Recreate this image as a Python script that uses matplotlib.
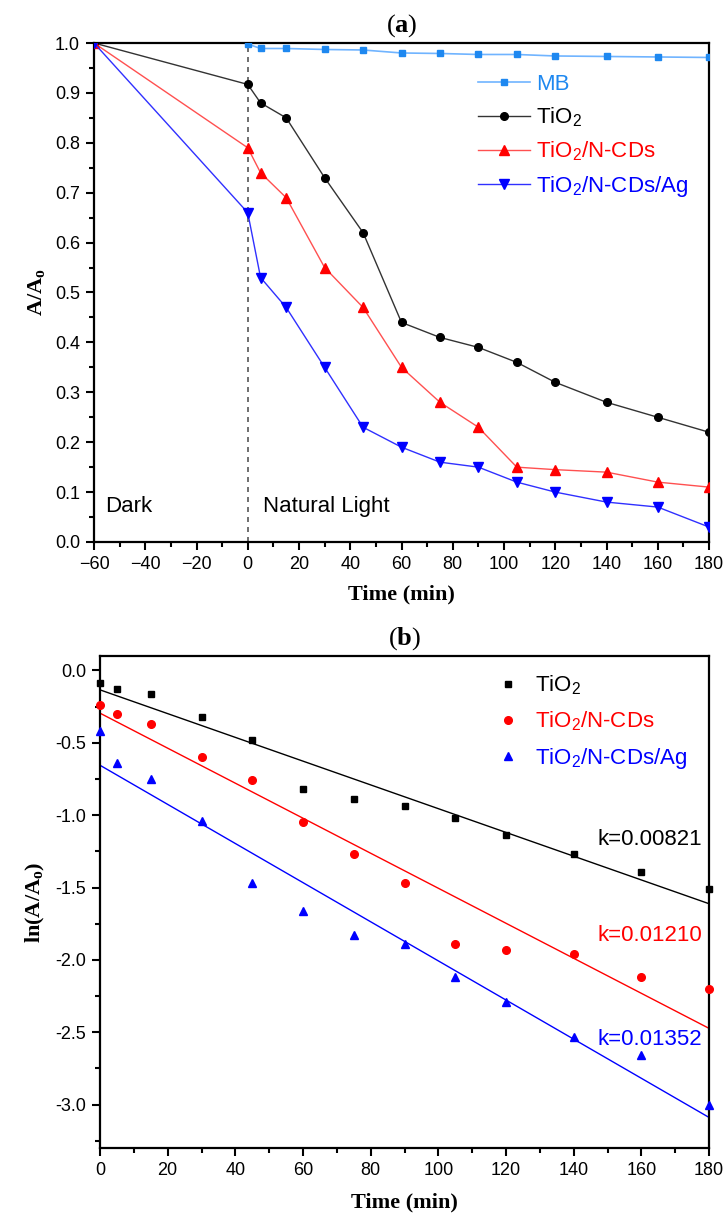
import matplotlib
matplotlib.use("Agg")
import matplotlib.pyplot as plt
from matplotlib.ticker import MultipleLocator
import numpy as np

plt.rcParams['font.family'] = ['Liberation Sans', 'DejaVu Sans']
plt.rcParams['mathtext.fontset'] = 'custom'
plt.rcParams['mathtext.rm'] = 'Liberation Sans'
plt.rcParams['mathtext.it'] = 'Liberation Sans:italic'
plt.rcParams['mathtext.bf'] = 'Liberation Serif:bold'
plt.rcParams['mathtext.sf'] = 'Liberation Serif'

# ---------------- Panel (a) data ----------------
time_a = [-60, 0, 5, 15, 30, 45, 60, 75, 90, 105, 120, 140, 160, 180]
time_mb = [0, 5, 15, 30, 45, 60, 75, 90, 105, 120, 140, 160, 180]
mb_a = [0.998, 0.989, 0.989, 0.987, 0.986, 0.980, 0.979, 0.977, 0.977, 0.974, 0.973, 0.972, 0.971]
tio2_a = [1.0, 0.917, 0.88, 0.85, 0.73, 0.62, 0.44, 0.41, 0.39, 0.36, 0.32, 0.28, 0.25, 0.22]
ncds_a = [1.0, 0.79, 0.74, 0.69, 0.55, 0.47, 0.35, 0.28, 0.23, 0.15, 0.145, 0.14, 0.12, 0.11]
ag_a = [1.0, 0.66, 0.53, 0.47, 0.35, 0.23, 0.19, 0.16, 0.15, 0.12, 0.10, 0.08, 0.07, 0.03]

# ---------------- Panel (b) data ----------------
time_b = [0, 5, 15, 30, 45, 60, 75, 90, 105, 120, 140, 160, 180]
tio2_b = [-0.09, -0.13, -0.16, -0.32, -0.48, -0.82, -0.89, -0.94, -1.02, -1.14, -1.27, -1.39, -1.51]
ncds_b = [-0.24, -0.30, -0.37, -0.60, -0.76, -1.05, -1.27, -1.47, -1.89, -1.93, -1.96, -2.12, -2.20]
ag_b = [-0.42, -0.64, -0.75, -1.04, -1.47, -1.66, -1.83, -1.89, -2.12, -2.29, -2.53, -2.66, -3.00]
k_values = [0.00821, 0.01210, 0.01352]
fit_intercepts = [-0.134, -0.295, -0.655]
k_label_y = [-1.17, -1.83, -2.55]

labels = ['TiO$_2$', 'TiO$_2$/N-CDs', 'TiO$_2$/N-CDs/Ag']
c_black, c_red, c_blue, c_mb = '#000000', '#FF0000', '#0000FF', '#1E88F0'

fig = plt.figure(figsize=(7.26, 12.2), dpi=100)
ax1 = fig.add_axes([94/726, 1-542/1220, (709-94)/726, (542-43)/1220])
ax2 = fig.add_axes([100/726, 1-1148/1220, (709-100)/726, (1148-656)/1220])

def style(ax):
    for s in ax.spines.values():
        s.set_linewidth(1.6)
    ax.tick_params(which='major', direction='out', length=6, width=1.5,
                   labelsize=13, top=False, right=False, pad=4)
    ax.tick_params(which='minor', direction='out', length=3.5, width=1.5,
                   top=False, right=False)

# ---- panel a ----
ax1.axvline(0, ymin=0, ymax=1, color='#555555', ls=(0, (3, 3)), lw=1.2, zorder=1)
ax1.plot(time_mb, mb_a, color='#70B4FF', lw=1.2, marker='s', ms=5,
         mfc=c_mb, mec=c_mb, label='MB', zorder=3)
ax1.plot(time_a, tio2_a, color='#333333', lw=1.0, marker='o', ms=5.5,
         mfc='black', mec='black', label=labels[0], zorder=3)
ax1.plot(time_a, ncds_a, color='#FF5050', lw=1.0, marker='^', ms=6.5,
         mfc=c_red, mec=c_red, label=labels[1], zorder=3)
ax1.plot(time_a, ag_a, color='#3030FF', lw=1.0, marker='v', ms=6.5,
         mfc=c_blue, mec=c_blue, label=labels[2], zorder=3)
ax1.set_xlim(-60, 180)
ax1.set_ylim(0, 1.0)
ax1.xaxis.set_major_locator(MultipleLocator(20))
ax1.xaxis.set_minor_locator(MultipleLocator(10))
ax1.yaxis.set_major_locator(MultipleLocator(0.1))
ax1.yaxis.set_minor_locator(MultipleLocator(0.05))
ax1.yaxis.set_major_formatter(matplotlib.ticker.FormatStrFormatter('%.1f'))
style(ax1)
ax1.set_xlabel('Time (min)', family='Liberation Serif', weight='bold', fontsize=16, labelpad=8)
ax1.set_ylabel(r'$\mathbf{A/A_o}$', fontsize=16, labelpad=6)
ax1.set_title(r'$\mathsf{(}\mathbf{a}\mathsf{)}$', fontsize=19, pad=8)
ax1.text(-55.7, 0.072, 'Dark', fontsize=16, va='center', ha='left')
ax1.text(6, 0.072, 'Natural Light', fontsize=16, va='center', ha='left')
leg1 = ax1.legend(loc='upper left', bbox_to_anchor=(0.607, 0.96), frameon=False,
                  fontsize=16, handlelength=2.3, handletextpad=0.3,
                  labelspacing=0.47, borderpad=0)
for txt, col in zip(leg1.get_texts(), [c_mb, 'black', c_red, c_blue]):
    txt.set_color(col)

# ---- panel b ----
t_fit = np.array([0, 180])
b_series = [(tio2_b, c_black, 's', 5), (ncds_b, c_red, 'o', 5.5), (ag_b, c_blue, '^', 6)]
for (vals, col, mk, ms), lab, k, b0, ky in zip(b_series, labels, k_values, fit_intercepts, k_label_y):
    ax2.plot(time_b, vals, ls='none', marker=mk, ms=ms, color=col, label=lab, zorder=3,
             clip_on=False)
    ax2.plot(t_fit, b0 - k * t_fit, color=col, lw=1.0, zorder=2)
    ax2.text(178, ky, 'k=%.5f' % k, color=col, fontsize=16, ha='right', va='center')
ax2.set_xlim(0, 180)
ax2.set_ylim(-3.3, 0.1)
ax2.xaxis.set_major_locator(MultipleLocator(20))
ax2.xaxis.set_minor_locator(MultipleLocator(10))
ax2.yaxis.set_major_locator(MultipleLocator(0.5))
ax2.yaxis.set_minor_locator(MultipleLocator(0.25))
ax2.yaxis.set_major_formatter(matplotlib.ticker.FormatStrFormatter('%.1f'))
style(ax2)
ax2.set_xlabel('Time (min)', family='Liberation Serif', weight='bold', fontsize=16, labelpad=10)
ax2.set_ylabel(r'$\mathbf{ln(A/A_o)}$', fontsize=16, labelpad=6)
ax2.set_title(r'$\mathsf{(}\mathbf{b}\mathsf{)}$', fontsize=19, pad=8)
leg2 = ax2.legend(loc='upper left', bbox_to_anchor=(0.630, 0.987), frameon=False,
                  fontsize=16, handlelength=1.2, handletextpad=0.6,
                  labelspacing=0.57, borderpad=0)
for txt, col in zip(leg2.get_texts(), [c_black, c_red, c_blue]):
    txt.set_color(col)

fig.savefig('out.png', dpi=100)
